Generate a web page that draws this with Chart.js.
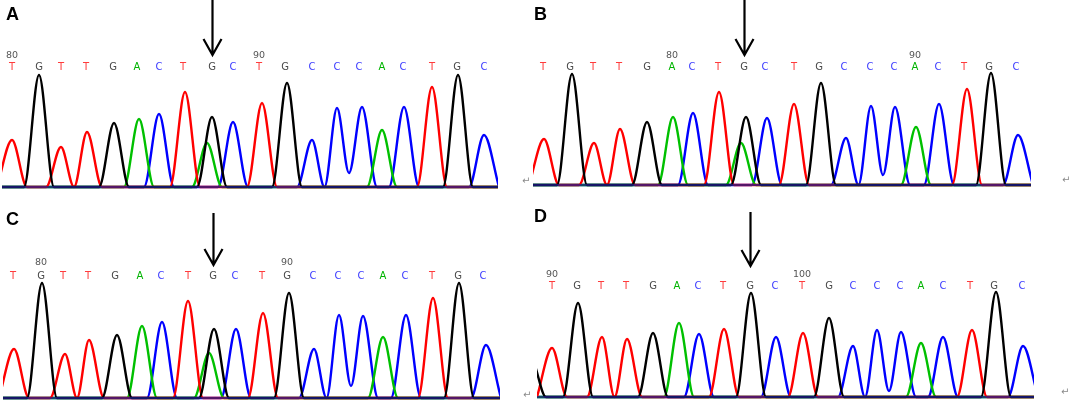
<!DOCTYPE html>
<html>
<head>
<meta charset="utf-8">
<script src="https://cdn.jsdelivr.net/npm/chart.js@4.4.0/dist/chart.umd.min.js"></script>
<style>
    html, body { margin: 0; padding: 0; background: #fff; }
    body { width: 1072px; height: 401px; position: relative; overflow: hidden; }
    canvas { position: absolute; }
    .tag { position: absolute; font: bold 18px "Liberation Sans", Arial, sans-serif; color: #000; line-height: 18px; }
    .ret { position: absolute; font: 10px "DejaVu Sans", sans-serif; color: #8a8a8a; line-height: 10px; }
</style>
</head>
<body>

<canvas id="chartA" width="520" height="200" style="left:0;top:0"></canvas>
<canvas id="chartB" width="552" height="200" style="left:520px;top:0"></canvas>
<canvas id="chartC" width="520" height="201" style="left:0;top:200px"></canvas>
<canvas id="chartD" width="552" height="201" style="left:520px;top:200px"></canvas>

<div class="tag" style="left:6px;top:5px">A</div>
<div class="tag" style="left:534px;top:5px">B</div>
<div class="tag" style="left:6px;top:210px">C</div>
<div class="tag" style="left:534px;top:207px">D</div>

<div class="ret" style="left:522px;top:176px">↵</div>
<div class="ret" style="left:1062px;top:175px">↵</div>
<div class="ret" style="left:523px;top:390px">↵</div>
<div class="ret" style="left:1061px;top:387px">↵</div>

<script>
/* ============================================================
   SECUENCIA (misma lectura en los cuatro paneles)
============================================================ */
const bases = "TGTTGACTGCTGCCCACTGC".split("");
const arrowBase = 8;   // la G señalada con la flecha

/* ============================================================
   PANEL A
============================================================ */
const basePosA = [12, 39, 61, 86, 113, 137, 159, 183, 212, 233, 259, 285, 312, 337, 359, 382, 403, 432, 457, 484];
const numIdxA = [0, 10];
const numTextA = ["80", "90"];
const redA = [[12, 47], [61, 40], [87, 55], [185, 95], [262, 84], [432, 100]];
const blackA = [[39, 112], [114, 64], [212, 70], [287, 104], [458, 112]];
const greenA = [[139, 68], [207, 44], [382, 57]];
const blueA = [[159, 73], [233, 65], [312, 47], [337, 79], [362, 80], [404, 80], [484, 52]];
const valleyA = [[349, 14]];

/* ============================================================
   PANEL B
============================================================ */
const basePosB = [23, 50, 73, 99, 127, 152, 172, 198, 224, 245, 274, 299, 324, 350, 374, 395, 418, 444, 469, 496];
const numIdxB = [5, 15];
const numTextB = ["80", "90"];
const redB = [[24, 46], [74, 42], [100, 56], [199, 93], [274, 81], [447, 96]];
const blackB = [[52, 111], [127, 63], [226, 68], [301, 102], [471, 112]];
const greenB = [[153, 68], [221, 42], [396, 58]];
const blueB = [[173, 72], [247, 67], [326, 47], [351, 79], [375, 78], [419, 81], [498, 50]];
const valleyB = [[363, 10]];

/* ============================================================
   PANEL C
============================================================ */
const basePosC = [13, 41, 63, 88, 115, 140, 161, 188, 213, 235, 262, 287, 313, 338, 361, 383, 405, 432, 458, 483];
const numIdxC = [1, 11];
const numTextC = ["80", "90"];
const redC = [[14, 49], [65, 44], [89, 58], [188, 97], [263, 85], [433, 100]];
const blackC = [[42, 115], [117, 63], [214, 69], [289, 105], [459, 115]];
const greenC = [[142, 72], [209, 45], [383, 61]];
const blueC = [[162, 76], [236, 69], [314, 49], [339, 83], [363, 82], [406, 83], [486, 53]];
const valleyC = [[351, 12]];

/* ============================================================
   PANEL D
============================================================ */
const basePosD = [32, 57, 81, 106, 133, 157, 178, 203, 230, 255, 282, 309, 333, 357, 380, 401, 423, 450, 474, 502];
const numIdxD = [0, 10];
const numTextD = ["90", "100"];
const redD = [[32, 49], [82, 60], [107, 58], [204, 68], [283, 64], [452, 67]];
const blackD = [[11, 38], [58, 94], [133, 64], [231, 104], [309, 79], [476, 105]];
const greenD = [[159, 74], [401, 54]];
const blueD = [[179, 63], [256, 60], [333, 51], [357, 67], [381, 65], [423, 60], [503, 51]];
const valleyD = [[369, 6]];

/* ============================================================
   ESTILO / MAQUETACIÓN
============================================================ */
const baseColors = { T: "#ff3b3b", G: "#4a4a4a", A: "#00b400", C: "#3c3cff" };
const HALF = 15;   // semi-anchura de pico (unidades de barrido)

const panels = [
    { id: "chartA", w: 520, h: 200, x0: 2,  x1: 498, base: 187, letterY: 67, numY: 56, arrowTop: 0,  arrowTip: 55,
      pos: basePosA, numIdx: numIdxA, numText: numTextA, red: redA, black: blackA, green: greenA, blue: blueA, valley: valleyA },
    { id: "chartB", w: 552, h: 200, x0: 13, x1: 511, base: 185, letterY: 67, numY: 56, arrowTop: 0,  arrowTip: 55,
      pos: basePosB, numIdx: numIdxB, numText: numTextB, red: redB, black: blackB, green: greenB, blue: blueB, valley: valleyB },
    { id: "chartC", w: 520, h: 201, x0: 3,  x1: 500, base: 198, letterY: 76, numY: 63, arrowTop: 13, arrowTip: 65,
      pos: basePosC, numIdx: numIdxC, numText: numTextC, red: redC, black: blackC, green: greenC, blue: blueC, valley: valleyC },
    { id: "chartD", w: 552, h: 201, x0: 17, x1: 514, base: 197, letterY: 86, numY: 75, arrowTop: 12, arrowTip: 66,
      pos: basePosD, numIdx: numIdxD, numText: numTextD, red: redD, black: blackD, green: greenD, blue: blueD, valley: valleyD }
];

/* ============================================================
   TRAZA: base -> pico -> base (valles explícitos)
============================================================ */
function trace(peaks, valleys, x0, x1) {
    const items = peaks.map(p => ({ x: p[0], y: p[1], v: false }))
        .concat(valleys.map(p => ({ x: p[0], y: p[1], v: true })))
        .sort((a, b) => a.x - b.x);
    const pts = [];
    items.forEach((it, i) => {
        const prev = items[i - 1], next = items[i + 1];
        if (it.v) { pts.push({ x: it.x, y: it.y }); return; }
        if (!(prev && prev.v)) {
            let lx = it.x - HALF;
            if (prev) lx = Math.max(lx, (prev.x + it.x) / 2);
            if (!pts.length || lx > pts[pts.length - 1].x) pts.push({ x: lx, y: 0 });
        }
        pts.push({ x: it.x, y: it.y });
        if (!(next && next.v)) {
            let rx = it.x + HALF;
            if (next) rx = Math.min(rx, (next.x + it.x) / 2);
            pts.push({ x: rx, y: 0 });
        }
    });
    if (pts[0].x > x0) pts.unshift({ x: x0 - 20, y: 0 });
    if (pts[pts.length - 1].x < x1) pts.push({ x: x1 + 20, y: 0 });
    return pts;
}

// letras, numeración y flecha
const seqPlugin = {
    id: "seqLabels",
    afterDraw(chart, args, o) {
        const ctx = chart.ctx;
        const xs = chart.scales.x;
        ctx.save();
        ctx.textAlign = "center";
        ctx.textBaseline = "middle";
        ctx.font = '10px "DejaVu Sans", sans-serif';
        o.pos.forEach((p, i) => {
            ctx.fillStyle = baseColors[bases[i]];
            ctx.fillText(bases[i], xs.getPixelForValue(p), o.letterY);
        });
        ctx.font = '9.5px "DejaVu Sans", sans-serif';
        ctx.fillStyle = "#555";
        o.numIdx.forEach((k, j) => ctx.fillText(o.numText[j], xs.getPixelForValue(o.pos[k]), o.numY));

        const ax = Math.round(xs.getPixelForValue(o.pos[arrowBase])) + 0.5;
        ctx.strokeStyle = "#000";
        ctx.lineWidth = 2.2;
        ctx.beginPath();
        ctx.moveTo(ax, o.arrowTop);
        ctx.lineTo(ax, o.arrowTip);
        ctx.moveTo(ax - 9, o.arrowTip - 16);
        ctx.lineTo(ax, o.arrowTip);
        ctx.lineTo(ax + 9, o.arrowTip - 16);
        ctx.stroke();
        ctx.restore();
    }
};

function lineSet(label, data, color, width) {
    return {
        label: label,
        data: data,
        borderColor: color,
        borderWidth: width,
        pointRadius: 0,
        fill: false,
        cubicInterpolationMode: "monotone",
        clip: { left: 0, right: 0, top: 10, bottom: 4 }
    };
}

panels.forEach(pn => {
    new Chart(document.getElementById(pn.id), {
        type: "line",
        data: {
            datasets: [
                lineSet("base", [{ x: pn.x0, y: 0 }, { x: pn.x1, y: 0 }], "#1c1c8a", 1.4),
                lineSet("G", trace(pn.black, [], pn.x0, pn.x1), "#000000", 2.4),
                lineSet("T", trace(pn.red, [], pn.x0, pn.x1), "#ff0000", 2.4),
                lineSet("A", trace(pn.green, [], pn.x0, pn.x1), "#00c000", 2.4),
                lineSet("C", trace(pn.blue, pn.valley, pn.x0, pn.x1), "#0000ff", 2.4)
            ]
        },
        options: {
            responsive: false,
            animation: false,
            events: [],
            layout: { padding: { left: pn.x0, right: pn.w - pn.x1, top: 0, bottom: pn.h - pn.base } },
            scales: {
                x: { type: "linear", display: false, min: pn.x0, max: pn.x1 },
                y: { display: false, min: 0, max: pn.base }
            },
            plugins: {
                legend: { display: false },
                tooltip: { enabled: false },
                seqLabels: pn
            }
        },
        plugins: [seqPlugin]
    });
});
</script>
</body>
</html>
